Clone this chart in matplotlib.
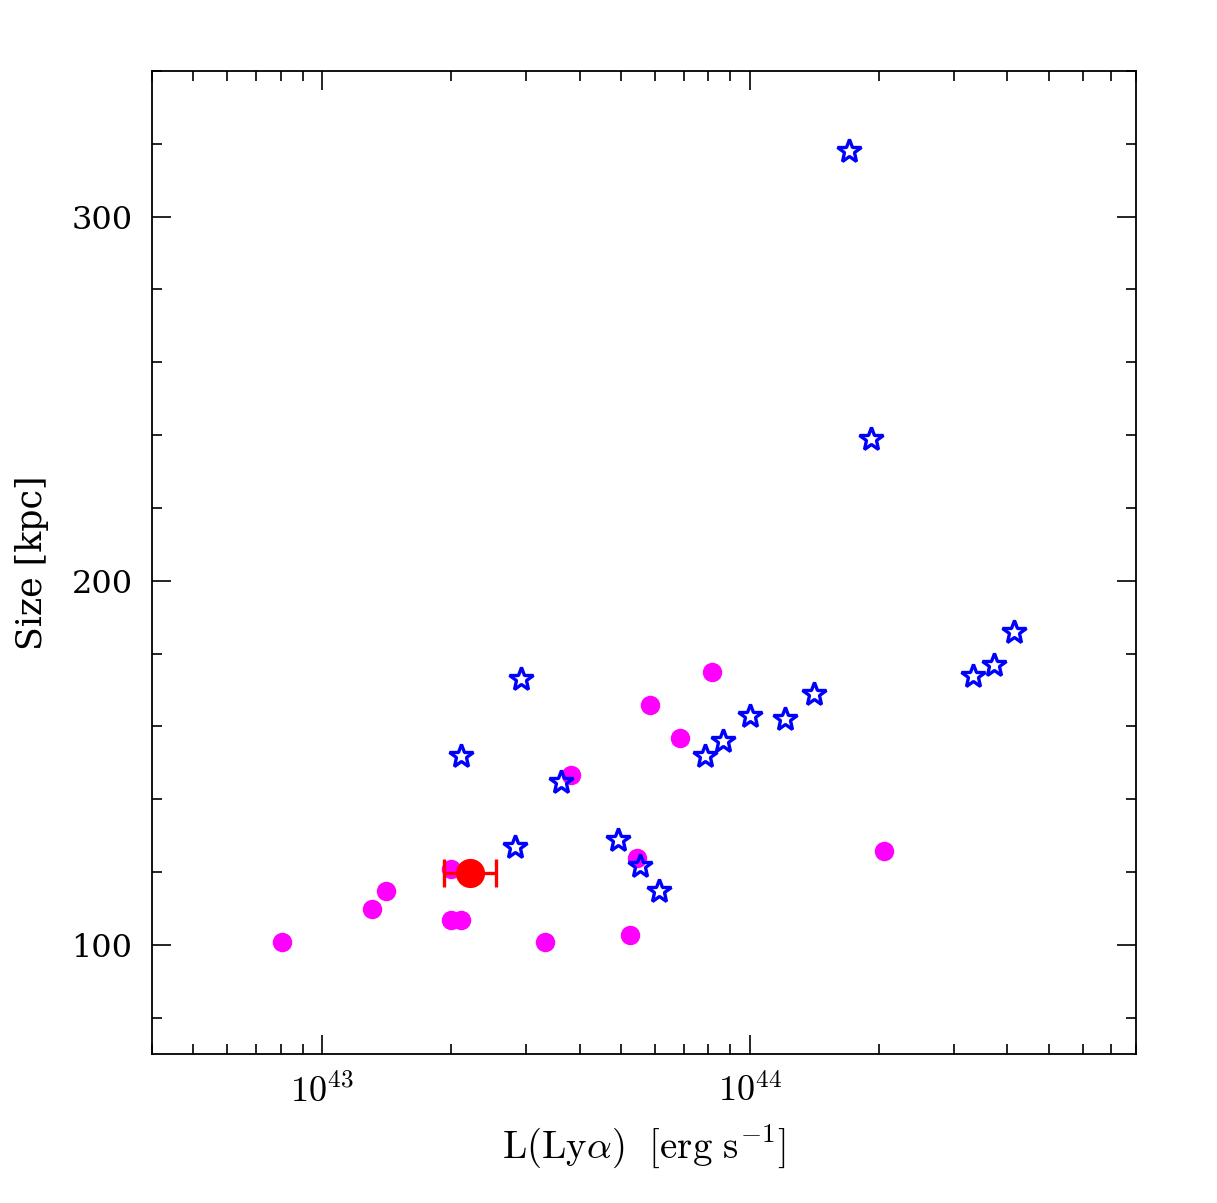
import matplotlib
matplotlib.use("Agg")
import matplotlib.pyplot as plt
from matplotlib.ticker import FixedLocator, LogLocator, NullFormatter, FixedFormatter, MultipleLocator

plt.rcParams['mathtext.fontset'] = 'cm'

# Magenta circles
mag_L = [8.07e42, 1.31e43, 1.41e43, 2.0e43, 2.0e43, 2.11e43, 3.32e43, 3.82e43,
         5.25e43, 5.45e43, 5.84e43, 6.86e43, 8.14e43, 2.06e44]
mag_size = [100.8, 109.9, 114.8, 120.9, 106.9, 106.9, 100.8, 146.7,
            102.7, 123.9, 165.9, 156.9, 175.0, 125.8]

# Blue stars
star_L = [2.11e43, 2.92e43, 2.82e43, 3.61e43, 4.92e43, 5.53e43, 6.13e43, 7.85e43,
          8.65e43, 1.0e44, 1.21e44, 1.41e44, 1.71e44, 1.92e44, 3.32e44, 3.73e44, 4.14e44]
star_size = [151.9, 173.1, 126.9, 144.8, 128.8, 121.7, 114.8, 151.9,
             156.0, 162.9, 162.1, 169.0, 318.1, 239.0, 173.9, 176.9, 186.0]

# Red point with x error
red_L = [2.22e43]
red_size = [119.8]
red_L_lo = [1.93e43]
red_L_hi = [2.55e43]

fig = plt.figure(figsize=(12.17, 12.03), dpi=100)
ax = fig.add_axes([152/1217, 1 - 1054/1203, (1136-152)/1217, (1054-71)/1203])

ax.plot(mag_L, mag_size, 'o', color='#ff00ff', markersize=14, markeredgewidth=0, zorder=3)
ax.plot(star_L, star_size, '*', markerfacecolor='none', markeredgecolor='#0000ff',
        markersize=18, markeredgewidth=2.4, zorder=3)
xerr = [[red_L[0] - red_L_lo[0]], [red_L_hi[0] - red_L[0]]]
ax.errorbar(red_L, red_size, xerr=xerr, fmt='none', ecolor='#ff0000',
            elinewidth=2.4, capsize=10, capthick=2.4, zorder=4)
ax.plot(red_L, red_size, 'o', color='#ff0000', markersize=21, markeredgewidth=0, zorder=5)

ax.set_xscale('log')
ax.set_xlim(4e42, 8e44)
ax.set_ylim(70, 340)

ax.xaxis.set_major_locator(FixedLocator([1e43, 1e44]))
ax.xaxis.set_major_formatter(FixedFormatter([r'$10^{43}$', r'$10^{44}$']))
ax.xaxis.set_minor_locator(LogLocator(base=10, subs=range(2, 10)))
ax.xaxis.set_minor_formatter(NullFormatter())

ax.yaxis.set_major_locator(FixedLocator([100, 200, 300]))
ax.yaxis.set_major_formatter(FixedFormatter(['100', '200', '300']))
ax.yaxis.set_minor_locator(MultipleLocator(20))

ax.tick_params(which='both', direction='in', top=True, right=True, width=1.2)
ax.tick_params(which='major', length=14)
ax.tick_params(which='minor', length=7)
ax.tick_params(axis='x', which='major', labelsize=26, pad=14)
ax.tick_params(axis='y', which='major', labelsize=23, pad=14)
for lab in ax.get_yticklabels():
    lab.set_fontfamily('DejaVu Serif')
for sp in ax.spines.values():
    sp.set_linewidth(1.3)

ax.set_xlabel(r'$\mathrm{L(Ly}\alpha\mathrm{)\ \ [erg\ s^{-1}]}$', fontsize=28, labelpad=10)
ax.set_ylabel('Size [kpc]', fontsize=25, family='DejaVu Serif', labelpad=16)

fig.savefig('out.png', dpi=100, facecolor='white')
